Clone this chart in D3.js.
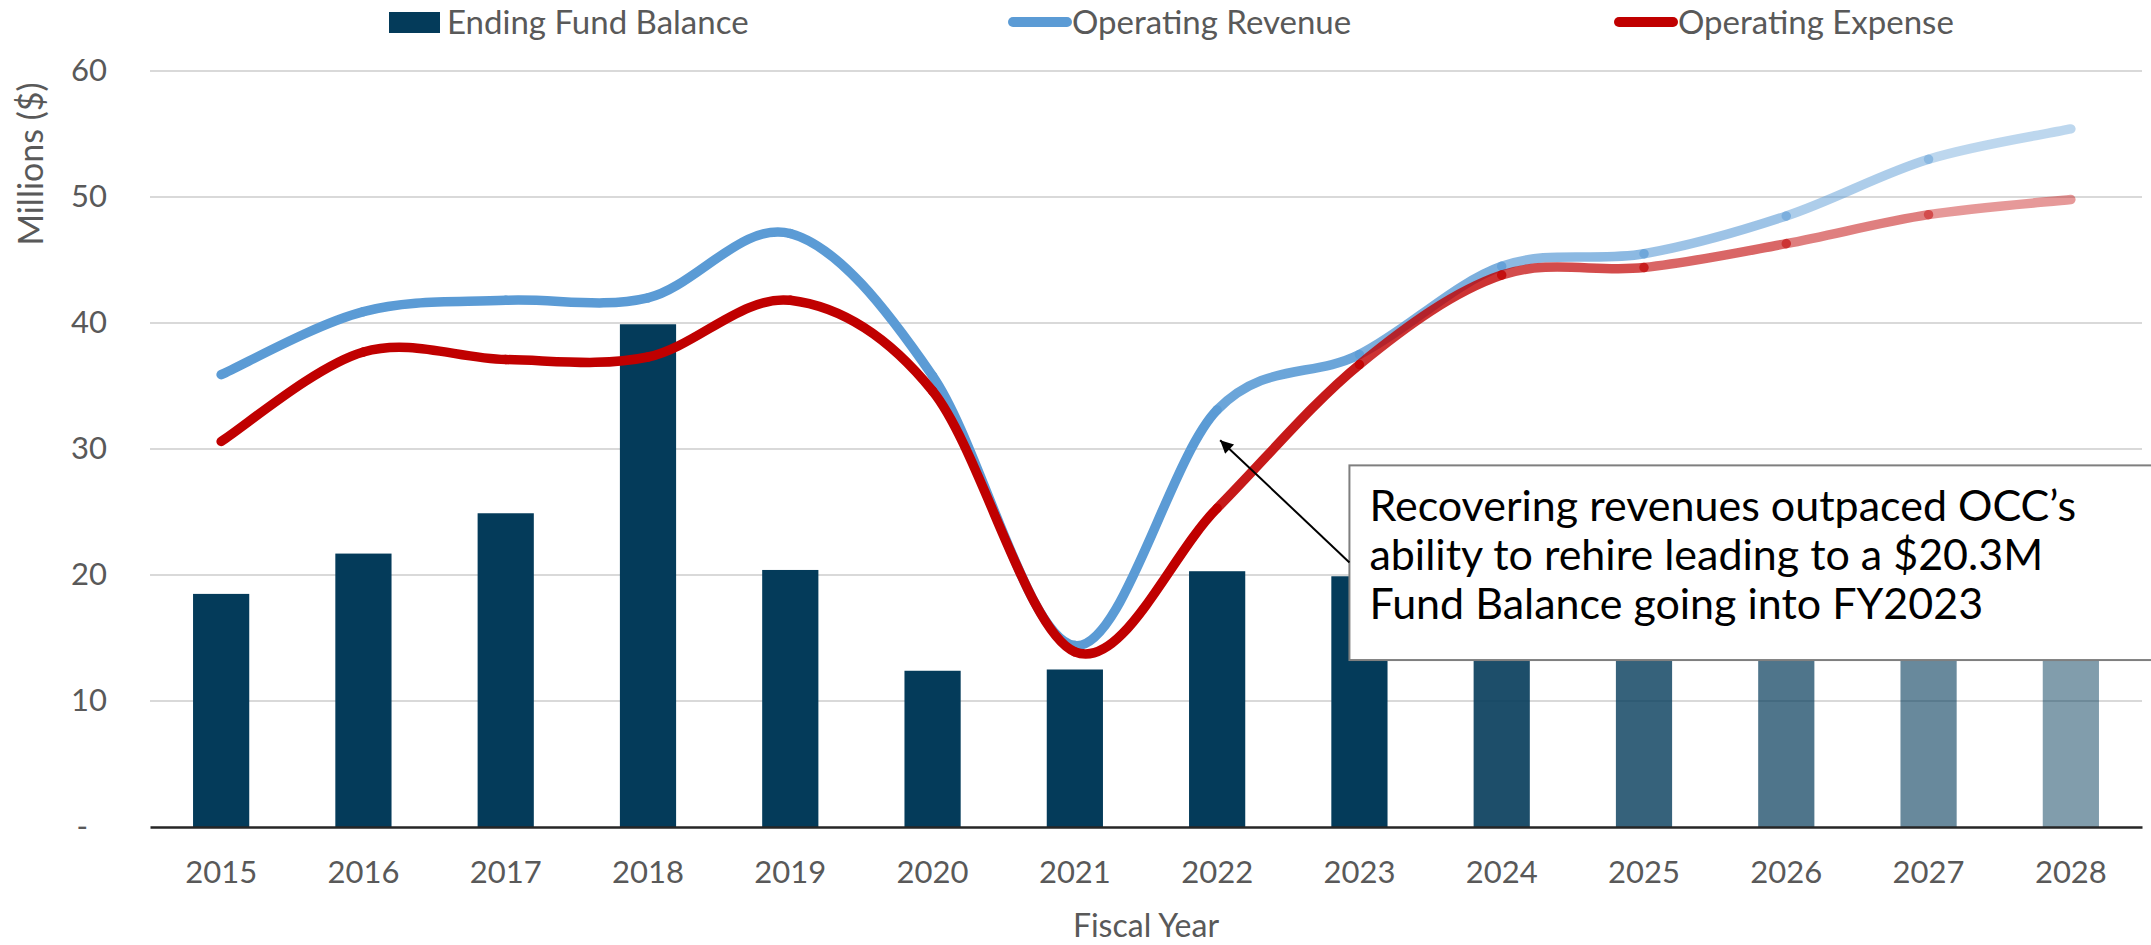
<!DOCTYPE html>
<html lang="en">
  <head>
    <meta charset="UTF-8" />
    <script src="https://d3js.org/d3.v7.min.js"></script>
    <style>
      body { margin: 0; background: #fff; }
      svg { display: block; font-family: Lato, "Open Sans", sans-serif; }
    </style>
  </head>
  <body>
    <div id="chart"></div>
    <script>
      // chart values (millions of dollars)
      var years = ["2015", "2016", "2017", "2018", "2019", "2020", "2021",
        "2022", "2023", "2024", "2025", "2026", "2027", "2028"];
      var fundBalance = [18.5, 21.7, 24.9, 39.9, 20.4, 12.4, 12.5, 20.3, 19.9,
        20.5, 21.0, 22.0, 23.5, 25.0];
      var revenue = [35.9, 40.9, 41.8, 42.0, 47.1, 35.8, 14.4, 33.1, 37.5,
        44.5, 45.5, 48.5, 53.0, 55.4];
      var expense = [30.6, 37.7, 37.1, 37.3, 41.8, 34.6, 13.9, 25.3, 36.7,
        43.8, 44.4, 46.3, 48.6, 49.8];
      var yTicks = [0, 10, 20, 30, 40, 50, 60];
      // projected years fade out
      var barOpacity = [1, 1, 1, 1, 1, 1, 1, 1, 1, 0.9, 0.8, 0.7, 0.6, 0.5];
      var segOpacity = [1, 1, 1, 1, 1, 1, 1, 1, 0.9, 0.8, 0.7, 0.6, 0.5, 0.4];
      var noteLines = [
        "Recovering revenues outpaced OCC\u2019s",
        "ability to rehire leading to a $20.3M",
        "Fund Balance going into FY2023"
      ];

      var width = 2151, height = 945;
      var margin = { top: 71, right: 9, bottom: 118, left: 150 };

      var svg = d3.select("#chart").append("svg")
        .attr("width", width)
        .attr("height", height);

      var x = d3.scaleBand()
        .domain(years)
        .range([margin.left, width - margin.right])
        .padding(0);
      var y = d3.scaleLinear()
        .domain([0, 60])
        .range([height - margin.bottom, margin.top]);
      var cx = function (i) { return x(years[i]) + x.bandwidth() / 2; };
      var barW = x.bandwidth() * 0.395;

      // gridlines
      svg.append("g")
        .selectAll("line")
        .data(yTicks.filter(function (d) { return d > 0; }))
        .join("line")
        .attr("x1", margin.left)
        .attr("x2", width - margin.right)
        .attr("y1", function (d) { return y(d); })
        .attr("y2", function (d) { return y(d); })
        .attr("stroke", "#d9d9d9")
        .attr("stroke-width", 2);

      // bars
      svg.append("g")
        .selectAll("rect")
        .data(fundBalance)
        .join("rect")
        .attr("x", function (d, i) { return cx(i) - barW / 2; })
        .attr("y", function (d) { return y(d); })
        .attr("width", barW)
        .attr("height", function (d) { return y(0) - y(d); })
        .attr("fill", "#043b5a")
        .attr("fill-opacity", function (d, i) { return barOpacity[i]; });

      // x axis
      var xAxis = svg.append("g")
        .attr("transform", "translate(0," + y(0) + ")")
        .call(d3.axisBottom(x).tickSize(0).tickPadding(34));
      xAxis.select(".domain").attr("stroke", "#262626").attr("stroke-width", 2.5);
      xAxis.selectAll("text")
        .attr("fill", "#595959")
        .style("font-family", "Lato")
        .style("font-size", "31px");

      // y axis
      var yAxis = svg.append("g")
        .attr("transform", "translate(" + (margin.left - 43) + ",0)")
        .call(d3.axisLeft(y).tickValues(yTicks).tickSize(0).tickPadding(0)
          .tickFormat(function (d) { return d === 0 ? "-" : d; }));
      yAxis.select(".domain").remove();
      yAxis.selectAll("text")
        .attr("fill", "#595959")
        .style("font-family", "Lato")
        .style("font-size", "31px")
        .attr("dx", function (d) { return d === 0 ? -19 : 0; });

      // axis titles
      svg.append("text")
        .attr("transform", "translate(31,164) rotate(-90)")
        .attr("text-anchor", "middle")
        .attr("dy", "0.35em")
        .attr("fill", "#595959")
        .style("font-size", "34px")
        .text("Millions ($)");
      svg.append("text")
        .attr("x", (margin.left + width - margin.right) / 2)
        .attr("y", 937)
        .attr("text-anchor", "middle")
        .attr("fill", "#595959")
        .style("font-size", "32px")
        .text("Fiscal Year");

      // smooth line drawn one segment at a time (cardinal, tension 0)
      function drawSeries(values, color) {
        var pts = values.map(function (v, i) { return [cx(i), y(v)]; });
        var g = svg.append("g");
        for (var i = 0; i < pts.length - 1; i++) {
          var p0 = pts[Math.max(i - 1, 0)], p1 = pts[i], p2 = pts[i + 1],
            p3 = pts[Math.min(i + 2, pts.length - 1)];
          var p = d3.path();
          p.moveTo(p1[0], p1[1]);
          p.bezierCurveTo(
            p1[0] + (p2[0] - p0[0]) / 6, p1[1] + (p2[1] - p0[1]) / 6,
            p2[0] - (p3[0] - p1[0]) / 6, p2[1] - (p3[1] - p1[1]) / 6,
            p2[0], p2[1]);
          g.append("path")
            .attr("d", p.toString())
            .attr("fill", "none")
            .attr("stroke", color)
            .attr("stroke-width", 9.5)
            .attr("stroke-linecap", "round")
            .attr("stroke-opacity", segOpacity[i + 1]);
        }
      }
      drawSeries(revenue, "#5b9bd5");
      drawSeries(expense, "#c00000");

      // annotation
      var boxLeft = cx(8) - 10, boxTop = y(28.7), boxBottom = y(13.25);
      svg.append("rect")
        .attr("x", boxLeft)
        .attr("y", boxTop)
        .attr("width", width - boxLeft + 10)
        .attr("height", boxBottom - boxTop)
        .attr("fill", "#fff")
        .attr("stroke", "#7f7f7f")
        .attr("stroke-width", 2);
      svg.append("text")
        .attr("x", boxLeft + 20)
        .attr("y", boxTop + 56)
        .attr("fill", "#000")
        .style("font-size", "43px")
        .selectAll("tspan")
        .data(noteLines)
        .join("tspan")
        .attr("x", boxLeft + 20)
        .attr("dy", function (d, i) { return i === 0 ? 0 : 49; })
        .text(function (d) { return d; });

      svg.append("defs").append("marker")
        .attr("id", "arrow")
        .attr("viewBox", "0 0 10 10")
        .attr("refX", 10)
        .attr("refY", 5)
        .attr("markerWidth", 18)
        .attr("markerHeight", 13)
        .attr("markerUnits", "userSpaceOnUse")
        .attr("orient", "auto")
        .append("path")
        .attr("d", "M0,0 L10,5 L0,10 Z")
        .attr("fill", "#000");
      svg.append("line")
        .attr("x1", boxLeft)
        .attr("y1", y(21.0))
        .attr("x2", cx(7) + 3)
        .attr("y2", y(30.7))
        .attr("stroke", "#000")
        .attr("stroke-width", 2)
        .attr("marker-end", "url(#arrow)");

      // legend
      var legend = svg.append("g").style("font-size", "33px").attr("fill", "#595959");
      legend.append("rect")
        .attr("x", 389).attr("y", 12).attr("width", 51).attr("height", 21)
        .attr("fill", "#043b5a");
      legend.append("text").attr("x", 447).attr("y", 34).text("Ending Fund Balance");
      var legendLines = [
        { label: "Operating Revenue", color: "#5b9bd5", x: 1013 },
        { label: "Operating Expense", color: "#c00000", x: 1619 }
      ];
      legendLines.forEach(function (d) {
        legend.append("line")
          .attr("x1", d.x).attr("x2", d.x + 54)
          .attr("y1", 22).attr("y2", 22)
          .attr("stroke", d.color)
          .attr("stroke-width", 10)
          .attr("stroke-linecap", "round");
        legend.append("text").attr("x", d.x + 59).attr("y", 34).text(d.label);
      });
    </script>
  </body>
</html>
